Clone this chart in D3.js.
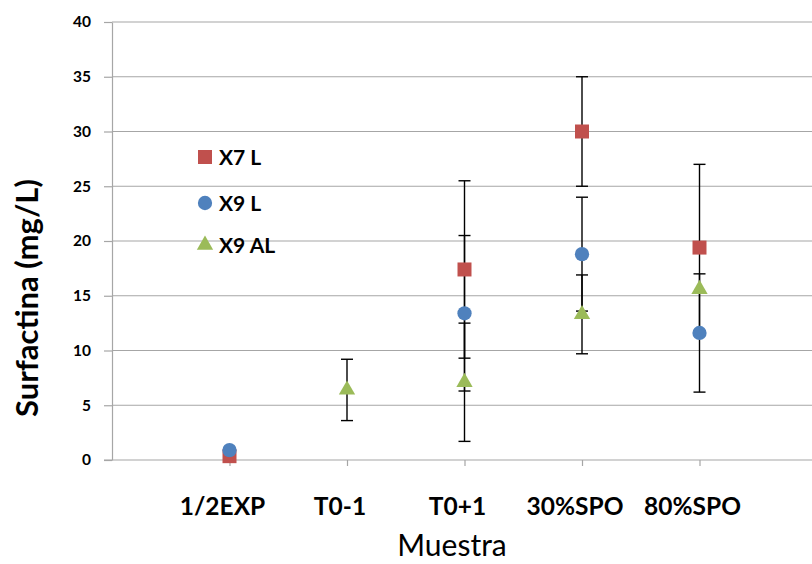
<!DOCTYPE html>
<html>
<head>
<meta charset="utf-8">
<script src="https://cdn.jsdelivr.net/npm/d3@7"></script>
<style>
  html, body { margin: 0; padding: 0; background: #fff; }
  svg { display: block; }
  text { font-family: Lato, "Open Sans", sans-serif; font-weight: bold; fill: #000; }
</style>
</head>
<body>
<svg id="chart" width="812" height="564"></svg>
<script>
// Sample categories (placed at x = 1..5 on a 0..6 numeric axis)
const categories = ["1/2EXP", "T0-1", "T0+1", "30%SPO", "80%SPO"];
const seriesNames = ["X7 L", "X9 L", "X9 AL"];

// Surfactin concentration (mg/L); null = not measured
const x7L   = [0.35, null, 17.4, 30.0, 19.4];
const x9L   = [0.9, null, 13.4, 18.8, 11.6];
const x9AL  = [null, 6.4, 7.1, 13.3, 15.6];

// Error bar half-widths (mg/L)
const x7LErr  = [0, null, 8.1, 5.0, 7.6];
const x9LErr  = [0, null, 7.1, 5.2, 5.4];
const x9ALErr = [null, 2.8, 5.4, 3.6, 0];

const yTicks = [0, 5, 10, 15, 20, 25, 30, 35, 40];
const colors = ["#C0504D", "#4F81BD", "#9BBB59"];
const shapes = [d3.symbolSquare, d3.symbolCircle, d3.symbolTriangle];

const svg = d3.select("#chart");
const plotLeft = 112, plotTop = 22, plotBottom = 460, plotRight = 817;

const x = d3.scaleLinear().domain([0, 6]).range([plotLeft, plotRight]);
const y = d3.scaleLinear().domain([0, 40]).range([plotBottom, plotTop]);

// Horizontal gridlines
svg.append("g")
  .selectAll("line")
  .data(yTicks.filter(t => t > 0))
  .join("line")
  .attr("x1", plotLeft).attr("x2", plotRight)
  .attr("y1", d => y(d)).attr("y2", d => y(d))
  .attr("stroke", "#a6a6a6").attr("stroke-width", 1.2);

// Y axis
const yAxis = svg.append("g")
  .attr("transform", `translate(${plotLeft},0)`)
  .call(d3.axisLeft(y).tickValues(yTicks).tickSize(8).tickPadding(13).tickSizeOuter(0));
yAxis.select(".domain").attr("stroke", "#a6a6a6").attr("stroke-width", 1.2);
yAxis.selectAll(".tick line").attr("stroke", "#a6a6a6").attr("stroke-width", 1.2);
yAxis.selectAll(".tick text")
  .style("font-family", "Lato, 'Open Sans', sans-serif")
  .style("font-weight", "bold")
  .style("font-size", "15.5px")
  .attr("fill", "#000");

// X axis (ticks under each sample)
const xAxis = svg.append("g")
  .attr("transform", `translate(0,${plotBottom})`)
  .call(d3.axisBottom(x).tickValues([1, 2, 3, 4, 5]).tickSize(6).tickFormat("").tickSizeOuter(0));
xAxis.select(".domain").attr("stroke", "#a6a6a6").attr("stroke-width", 1.2)
  .attr("d", `M${plotLeft - 8},0H${plotRight}`);
xAxis.selectAll(".tick line").attr("stroke", "#a6a6a6").attr("stroke-width", 1.2);

// Category labels
svg.append("g")
  .selectAll("text")
  .data(categories)
  .join("text")
  .attr("x", (d, i) => x(i + 1) - 7)
  .attr("y", 515)
  .attr("text-anchor", "middle")
  .style("font-size", "24.5px")
  .text(d => d);

// Axis titles
svg.append("text")
  .attr("x", 452).attr("y", 556)
  .attr("text-anchor", "middle")
  .style("font-size", "30px")
  .style("font-weight", "normal")
  .text("Muestra");

svg.append("text")
  .attr("transform", `translate(38,298) rotate(-90)`)
  .attr("text-anchor", "middle")
  .style("font-size", "31px")
  .style("font-weight", "bold")
  .text("Surfactina (mg/L)");

// Build series
const values = [x7L, x9L, x9AL];
const errs = [x7LErr, x9LErr, x9ALErr];
const series = seriesNames.map((name, s) => ({
  name, color: colors[s], shape: shapes[s],
  points: values[s].map((v, i) => ({ i, v, e: errs[s][i] })).filter(p => p.v !== null)
}));

// Error bars
const cap = 6;
const eb = svg.append("g").attr("stroke", "#000").attr("stroke-width", 1.4);
series.forEach(s => {
  s.points.filter(p => p.e > 0).forEach(p => {
    const cx = x(p.i + 1);
    const y1 = y(p.v - p.e), y2 = y(p.v + p.e);
    eb.append("line").attr("x1", cx).attr("x2", cx).attr("y1", y1).attr("y2", y2);
    eb.append("line").attr("x1", cx - cap).attr("x2", cx + cap).attr("y1", y1).attr("y2", y1);
    eb.append("line").attr("x1", cx - cap).attr("x2", cx + cap).attr("y1", y2).attr("y2", y2);
  });
});

// Markers
const sizes = [196, 160, 115];
series.forEach((s, k) => {
  svg.append("g")
    .selectAll("path")
    .data(s.points)
    .join("path")
    .attr("d", d3.symbol().type(s.shape).size(sizes[k]))
    .attr("transform", p => `translate(${x(p.i + 1)},${y(p.v)})`)
    .attr("fill", s.color);
});

// Legend
const legend = svg.append("g");
series.forEach((s, k) => {
  const ly = [157, 203, 245][k];
  legend.append("path")
    .attr("d", d3.symbol().type(s.shape).size(sizes[k]))
    .attr("transform", `translate(205,${ly})`)
    .attr("fill", s.color);
  legend.append("text")
    .attr("x", 219).attr("y", ly + 8)
    .style("font-size", "21px")
    .text(s.name);
});
</script>
</body>
</html>
